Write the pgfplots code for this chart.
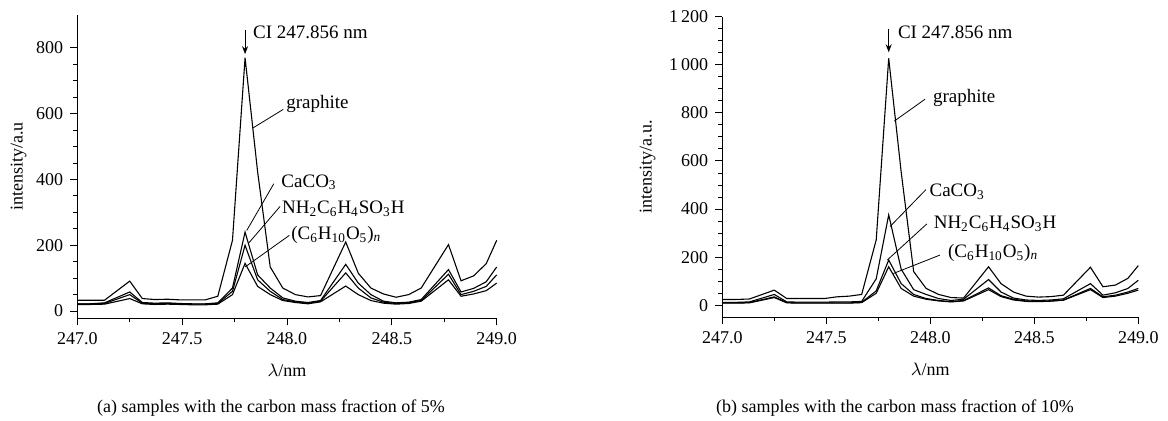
\documentclass[border=0pt]{standalone}
\usepackage{fontspec}
\setmainfont{Liberation Serif}
\usepackage{pgfplots}
\usepackage{pgfplotstable}
\pgfplotsset{compat=1.18}
\usetikzlibrary{arrows.meta}

% carbon mass fraction 5 %
\pgfplotstableread{
x       g     c     n     s
247.00  33    22    22    20
247.06  33    22    22    20
247.13  33    25    23    21
247.25  91    58    50    38
247.31  38    26    24    22
247.37  35    24    22    20
247.43  36    25    23    21
247.49  34    23    22    20
247.55  34    22    21    19
247.61  34    22    21    19
247.67  45    25    23    21
247.74  215   70    60    50
247.80  770   240   200   145
247.86  423   110   95    75
247.92  134   70    60    50
247.98  70    40    35    32
248.04  50    30    28    26
248.10  43    26    24    22
248.16  47    32    30    28
248.28  210   142   116   76
248.34  115   85    70    50
248.40  70    50    40    32
248.46  52    30    27    24
248.52  42    25    23    21
248.58  50    27    25    23
248.64  70    35    32    30
248.77  202   126   112   95
248.83  92    58    50    45
248.89  107   69    60    52
248.95  144   89    75    62
249.00  215   134   110   85
}\fivepct

% carbon mass fraction 10 %
\pgfplotstableread{
x       g     c     n     s
247.00  24    12    10    9
247.06  24    12    10    9
247.13  26    14    11    10
247.25  63    45    35    32
247.31  28    14    11    10
247.37  28    13    10    9
247.43  28    13    10    9
247.49  28    13    10    9
247.55  35    14    10    9
247.61  38    14    10    9
247.67  45    16    12    11
247.74  272   110   60    50
247.80  1027  376   188   160
247.86  554   150   90    70
247.92  140   65    45    38
247.98  70    45    28    25
248.04  45    28    20    18
248.10  32    20    15    14
248.16  30    25    20    18
248.28  160   107   72    65
248.34  90    55    40    36
248.40  55    30    25    22
248.46  38    22    18    16
248.52  34    20    16    15
248.58  36    22    18    17
248.64  42    27    22    21
248.77  158   90    70    65
248.83  77    42    35    32
248.89  84    52    42    38
248.95  112   70    55    50
249.00  165   104   70    63
}\tenpct

\pgfplotsset{
  spec/.style={
    scale only axis,
    anchor=south west,
    axis x line*=bottom,
    axis y line*=left,
    axis line style={line width=0.5pt},
    tick align=outside,
    tick style={black, line width=0.5pt},
    major tick length=3.5pt,
    minor tick length=2pt,
    xmin=247, xmax=249,
    xtick={247,247.5,...,249},
    minor x tick num=1,
    minor y tick num=3,
    xticklabel style={/pgf/number format/.cd, fixed, fixed zerofill, precision=1},
    /pgf/number format/assume math mode=true,
    /pgf/number format/1000 sep={\,},
    ticklabel style={font=\fontsize{9}{10}\selectfont},
    label style={font=\fontsize{9}{10}\selectfont},
    xlabel={$\lambda$/nm},
    xlabel shift=3pt,
    clip=false,
    cycle list={{black}},
    every axis plot post/.append style={black, line width=0.55pt, no markers},
  },
}
\tikzset{
  note/.style={font=\fontsize{9.5}{10}\selectfont, anchor=west, inner sep=0.5pt},
  lead/.style={line width=0.4pt},
}

\begin{document}
\begin{tikzpicture}
\useasboundingbox (0,0) rectangle (584pt,-210.5pt);

\begin{axis}[spec,
  at={(38.65pt,-159.15pt)},
  width=209.7pt, height=151.65pt,
  ymin=-22, ymax=900,
  ytick={0,200,...,800},
  ylabel={intensity/a.u},
  ylabel shift=-2pt,
]
\addplot table[x=x, y=g] {\fivepct};
\addplot table[x=x, y=c] {\fivepct};
\addplot table[x=x, y=n] {\fivepct};
\addplot table[x=x, y=s] {\fivepct};
\draw[-{Stealth[length=4pt,width=3pt]}, line width=0.5pt] (axis cs:247.80,853) -- (axis cs:247.80,781);
\node[note] at (axis cs:247.832,848) {CI 247.856 nm};
\draw[lead] (axis cs:247.982,613) -- (axis cs:247.836,556);
\node[note] at (axis cs:247.99,630) {graphite};
\draw[lead] (axis cs:247.937,387) -- (axis cs:247.808,245);
\node[note] at (axis cs:247.967,391) {CaCO\textsubscript{3}};
\draw[lead] (axis cs:247.967,318) -- (axis cs:247.815,205);
\node[note] at (axis cs:247.97,311) {NH\textsubscript{2}C\textsubscript{6}H\textsubscript{4}SO\textsubscript{3}H};
\draw[lead] (axis cs:248.011,230) -- (axis cs:247.80,134);
\node[note] at (axis cs:248.014,230) {(C\textsubscript{6}H\textsubscript{10}O\textsubscript{5})\textsubscript{\textit{n}}};
\end{axis}

\begin{axis}[spec,
  at={(361.15pt,-158.65pt)},
  width=208pt, height=150.3pt,
  ymin=-50, ymax=1200,
  ytick={0,200,...,1200},
  ylabel={intensity/a.u.},
]
\addplot table[x=x, y=g] {\tenpct};
\addplot table[x=x, y=c] {\tenpct};
\addplot table[x=x, y=n] {\tenpct};
\addplot table[x=x, y=s] {\tenpct};
\draw[-{Stealth[length=4pt,width=3pt]}, line width=0.5pt] (axis cs:247.80,1149) -- (axis cs:247.80,1052);
\node[note] at (axis cs:247.838,1135) {CI 247.856 nm};
\draw[lead] (axis cs:247.975,857) -- (axis cs:247.827,766);
\node[note] at (axis cs:248.007,864) {graphite};
\draw[lead] (axis cs:247.979,481) -- (axis cs:247.806,327);
\node[note] at (axis cs:247.99,473) {CaCO\textsubscript{3}};
\draw[lead] (axis cs:247.983,338) -- (axis cs:247.793,188);
\node[note] at (axis cs:248.01,338) {NH\textsubscript{2}C\textsubscript{6}H\textsubscript{4}SO\textsubscript{3}H};
\draw[lead] (axis cs:248.047,209) -- (axis cs:247.822,132);
\node[note] at (axis cs:248.079,216) {(C\textsubscript{6}H\textsubscript{10}O\textsubscript{5})\textsubscript{\textit{n}}};
\end{axis}

\node[font=\fontsize{9}{10}\selectfont] at (135.5pt,-204pt) {(a) samples with the carbon mass fraction of 5\%};
\node[font=\fontsize{9}{10}\selectfont] at (447.5pt,-204pt) {(b) samples with the carbon mass fraction of 10\%};
\end{tikzpicture}
\end{document}
